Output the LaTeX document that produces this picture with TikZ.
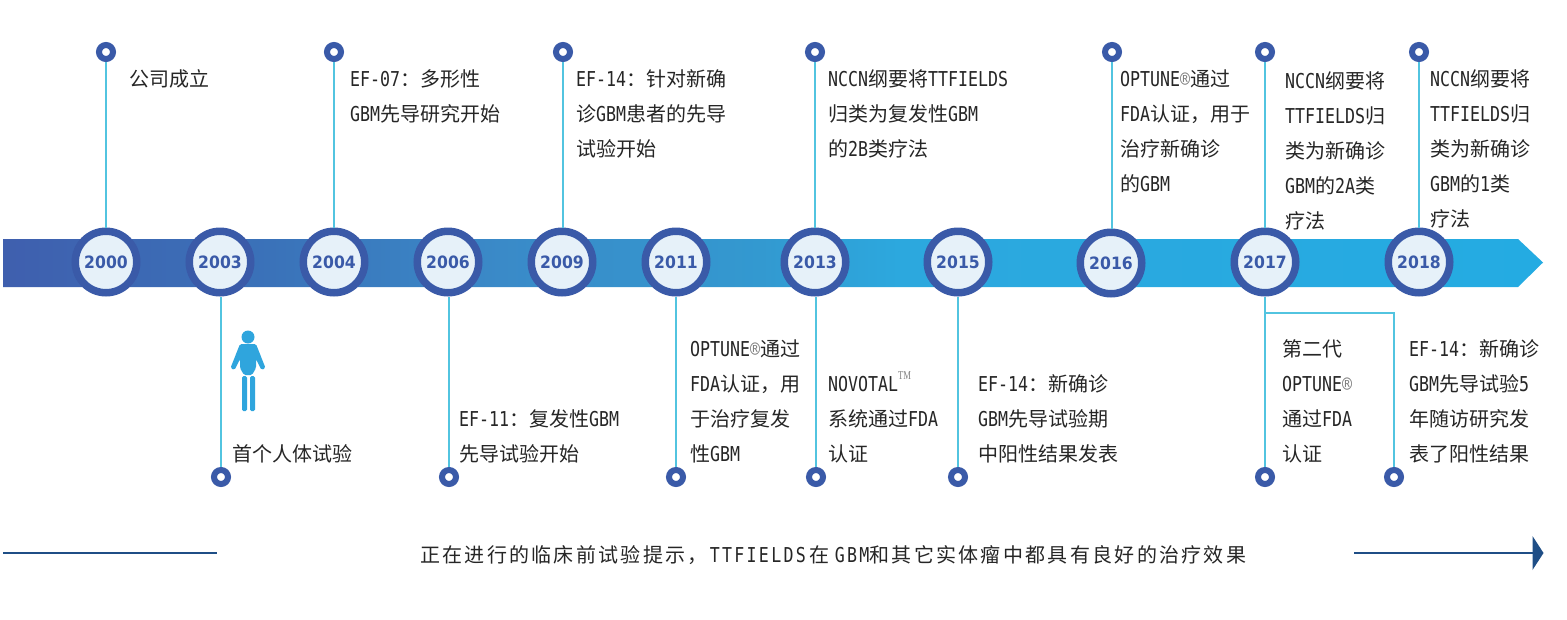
\documentclass[tikz,border=0pt]{standalone}
\usepackage{fontspec}
\setmainfont[FakeStretch=0.81]{DejaVu Sans Mono}
\newfontfamily\cjkf{Noto Sans CJK SC}
\newfontfamily\yearf[FakeStretch=0.92]{DejaVu Sans}
\newfontfamily\tmf[FakeStretch=0.72]{Liberation Serif}
\newfontfamily\cjkl[LetterSpace=11.5]{Noto Sans CJK SC}
\newfontfamily\monol[FakeStretch=0.81,LetterSpace=11.2]{DejaVu Sans Mono}
\definecolor{bandA}{HTML}{3F5FAE}
\definecolor{bandP}{HTML}{3A72B9}
\definecolor{bandQ}{HTML}{3A8AC8}
\definecolor{bandR}{HTML}{3399D0}
\definecolor{bandS}{HTML}{2CA8DE}
\definecolor{bandT}{HTML}{24ABE2}
\pgfdeclarehorizontalshading{bandshade}{100bp}{color(0bp)=(bandA); color(25bp)=(bandA); color(33.7bp)=(bandP); color(41.1bp)=(bandQ); color(49.6bp)=(bandR); color(54.1bp)=(bandS); color(75bp)=(bandT); color(100bp)=(bandT)}
\definecolor{ringc}{HTML}{3A5AA8}
\definecolor{innerc}{HTML}{E6F1F9}
\definecolor{linkc}{HTML}{52C4E0}
\definecolor{navyc}{HTML}{1F4E86}
\definecolor{personc}{HTML}{2FA5DD}
\definecolor{inkc}{HTML}{262626}
\newcommand\C[1]{{\fontsize{20}{35}\cjkf #1}}
\newcommand\Cl[1]{{\fontsize{20}{35}\cjkl #1}}
\newcommand\st{\rule{0pt}{20pt}}
\newcommand\reg{{\color{gray}®}}
\tikzset{
  x=1pt,y=-1pt,
  year/.style={circle,draw=ringc,fill=innerc,line width=7.5pt,minimum size=61.5pt,inner sep=0pt,
    text=ringc,font=\yearf\bfseries\fontsize{17}{18}\selectfont},
  dot/.style={circle,draw=ringc,fill=white,line width=6pt,minimum size=14pt,inner sep=0pt},
  link/.style={draw=linkc,line width=1.5pt},
  note/.style={anchor=north west,inner sep=0pt,align=left,text=inkc,font=\fontsize{20.5}{35}\selectfont},
}
\begin{document}
\begin{tikzpicture}
\useasboundingbox (0,0) rectangle (1567,619);
\path[fill=white] (0,0) rectangle (1567,619);
% band
\shade[shading=bandshade]
  (3,239) -- (1518,239) -- (1543,262.5) -- (1518,287) -- (3,287) -- cycle;
% years
\foreach \n/\x/\y in {2000/106/262,2003/220/262,2004/334/262,2006/448/262,2009/562/262,2011/676/262,2013/815/262,2015/958/262,2016/1111/263,2017/1265/262,2018/1419/262}
  \node[year] (y\n) at (\x,\y) {\n};
% dots
\foreach \n/\x in {2000/106,2004/334,2009/563,2013/815,2016/1112,2017/1265,2018/1419}
  \node[dot] (t\n) at (\x,52) {};
\foreach \n/\x in {2003/221,2006/449,2011/676,2013/816,2015/958,2017/1265,2018/1394}
  \node[dot] (b\n) at (\x,477) {};
% connectors
\foreach \n in {2000,2004,2009,2013,2016,2017,2018}
  \draw[link] (t\n) -- (t\n |- y\n.north);
\foreach \n in {2003,2006,2011,2013,2015,2017}
  \draw[link] (b\n |- y\n.south) -- (b\n);
\coordinate (fork) at (1265,313);
\coordinate (corner) at (1394,313);
\draw[link] (fork) -- (corner) -- (b2018);
% person
\fill[personc] (248,337) circle (6.5);
\fill[personc,rounded corners=1.5] (240,344) -- (256,344) -- (265.5,368) -- (261.5,370) -- (256,359) -- (256,368) -- (252,375) -- (244,375) -- (240,368) -- (240,359) -- (234.5,370) -- (230.5,368) -- cycle;
\fill[personc,rounded corners=1.5] (242,376) rectangle (247,411);
\fill[personc,rounded corners=1.5] (250,376) rectangle (255,411);
% upper notes
\node[note] (n2000) at (129,66) {\st\C{公司成立}};
\node[note] (n2004) at (350,66) {\st EF-07\C{：多形性}\\GBM\C{先导研究开始}};
\node[note] (n2009) at (576,66) {\st EF-14\C{：针对新确}\\\C{诊}GBM\C{患者的先导}\\\C{试验开始}};
\node[note] (n2013) at (828,66) {\st NCCN\C{纲要将}TTFIELDS\\\C{归类为复发性}GBM\\\C{的}2B\C{类疗法}};
\node[note] (n2016) at (1120,66) {\st OPTUNE\reg\C{通过}\\FDA\C{认证，用于}\\\C{治疗新确诊}\\\C{的}GBM};
\node[note] (n2017) at (1285,68) {\st NCCN\C{纲要将}\\TTFIELDS\C{归}\\\C{类为新确诊}\\GBM\C{的}2A\C{类}\\\C{疗法}};
\node[note] (n2018) at (1430,66) {\st NCCN\C{纲要将}\\TTFIELDS\C{归}\\\C{类为新确诊}\\GBM\C{的}1\C{类}\\\C{疗法}};
% lower notes
\node[note] (n2003) at (232,441) {\st\C{首个人体试验}};
\node[note] (n2006) at (459,406) {\st EF-11\C{：复发性}GBM\\\C{先导试验开始}};
\node[note] (n2011) at (690,336) {\st OPTUNE\reg\C{通过}\\FDA\C{认证，用}\\\C{于治疗复发}\\\C{性}GBM};
\node[note] (n2013b) at (828,371) {\st NOVOTAL\smash{\raisebox{12pt}{\tmf\color{gray}\fontsize{12}{12}\selectfont TM}}\\\C{系统通过}FDA\\\C{认证}};
\node[note] (n2015) at (978,371) {\st EF-14\C{：新确诊}\\GBM\C{先导试验期}\\\C{中阳性结果发表}};
\node[note] (n2017b) at (1282,336) {\st\C{第二代}\\OPTUNE\reg\\\C{通过}FDA\\\C{认证}};
\node[note] (n2018b) at (1409,336) {\st EF-14\C{：新确诊}\\GBM\C{先导试验}5\\\C{年随访研究发}\\\C{表了阳性结果}};
% bottom line
\coordinate (la) at (3,553);
\coordinate (lb) at (217,553);
\coordinate (ra) at (1354,553);
\coordinate (rb) at (1533,553);
\draw[navyc,line width=2pt] (la) -- (lb);
\draw[navyc,line width=2pt] (ra) -- (rb);
\fill[navyc] (1532.5,536) -- (1543.5,553) -- (1532.5,570) -- cycle;
\node[anchor=north west,inner sep=0pt,text=inkc,font=\fontsize{20.5}{35}\selectfont] (summary) at (420,542)
  {\st\Cl{正在进行的临床前试验提示，}\hspace*{2pt}{\monol TTFIELDS}\hspace*{4pt}\Cl{在}\hspace*{5pt}{\monol GBM}\Cl{和其它实体瘤中都具有良好的治疗效果}};
\end{tikzpicture}
\end{document}
